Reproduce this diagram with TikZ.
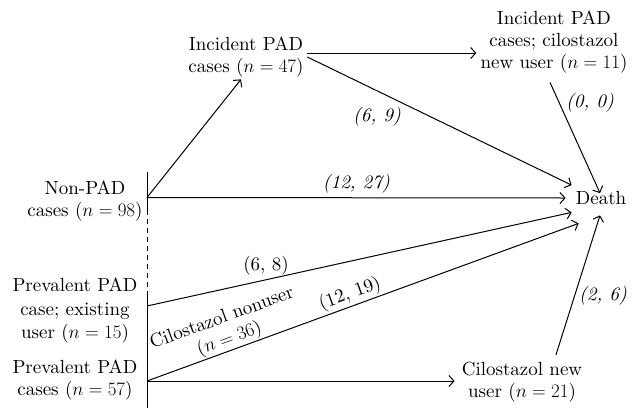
\RequirePackage{fix-cm}
\documentclass[tikz,border=0pt]{standalone}
\usepackage{fontspec}
\setmainfont{lmroman10-regular.otf}[ItalicFont=lmroman10-italic.otf]
\usetikzlibrary{arrows.meta}
\begin{document}
\begin{tikzpicture}[x=1pt,y=-1pt,
  lbl/.style={align=center,inner sep=0pt,font=\fontsize{19}{22}\selectfont},
  num/.style={inner sep=0pt,font=\fontsize{19}{22}\selectfont},
  ln/.style={line width=1pt},
  arr/.style={line width=1pt,-{Straight Barb[length=5pt,width=11pt,line width=1pt]}}]
\useasboundingbox (0,0) rectangle (635,408);
% nodes
\node[lbl] (nonpad) at (85,201) {Non-PAD\\cases ($n=98$)};
\node[lbl] (inc) at (246,57) {Incident PAD\\cases ($n=47$)};
\node[lbl] (incc) at (554,42) {Incident PAD\\cases; cilostazol\\new user ($n=11$)};
\node[num] (death) at (601,198) {Death};
\node[lbl,font=\fontsize{19}{23.5}\selectfont] (pe) at (75,311) {Prevalent PAD\\case; existing\\user ($n=15$)};
\node[lbl] (pc) at (75,380) {Prevalent PAD\\cases ($n=57$)};
\node[lbl] (cnu) at (522,382) {Cilostazol new\\user ($n=21$)};
% vertical time line
\coordinate (vtop) at (147,172);
\coordinate (vd1) at (147,210);
\coordinate (vd2) at (147,291);
\coordinate (vbot) at (147,408);
\draw[ln] (vtop) -- (vd1);
\draw[ln,dash pattern=on 5pt off 4pt] (vd1) -- (vd2);
\draw[ln] (vd2) -- (vbot);
\coordinate (snp) at (147,197.5);
\coordinate (spe) at (147,306);
\coordinate (spc) at (147,381);
% connectors
\draw[arr] (snp) -- ([xshift=-5pt,yshift=-2pt]inc.south);
\draw[arr] (snp) -- node[num,above=4pt,pos=0.5]{\itshape (12, 27)} ([xshift=-10pt]death.west);
\coordinate (a1) at ([xshift=3pt,yshift=4pt]inc.east);
\draw[arr,shorten >=4pt] (a1) -- (a1 -| incc.west);
\draw[arr] ([xshift=3.5pt]inc.east) -- ([xshift=-4pt,yshift=6pt]death.north west);
\node[num] at (377,117) {\itshape (6, 9)};
\draw[arr] ([xshift=-4pt,yshift=-9pt]incc.south) -- ([xshift=-1pt,yshift=-2pt]death.north);
\node[num] at (590,103) {\itshape (0, 0)};
\draw[arr] (spe) -- ([xshift=-4pt,yshift=-7.5pt]death.south west);
\node[num] at (266,266) {(6, 8)};
\draw[arr] (spc) -- node[lbl,sloped,above=1pt,pos=0.2]{Cilostazol nonuser\\($n=36$)}
  node[num,sloped,above=2pt,pos=0.48]{(12, 19)}
  ([xshift=3pt,yshift=-18.5pt]death.south west);
\draw[arr,shorten >=7pt] (spc) -- (spc -| cnu.west);
\draw[arr] ([xshift=34pt,yshift=7pt]cnu.north) -- ([xshift=-1pt,yshift=-10.5pt]death.south);
\node[num] at (603,296) {\itshape (2, 6)};
\end{tikzpicture}
\end{document}
